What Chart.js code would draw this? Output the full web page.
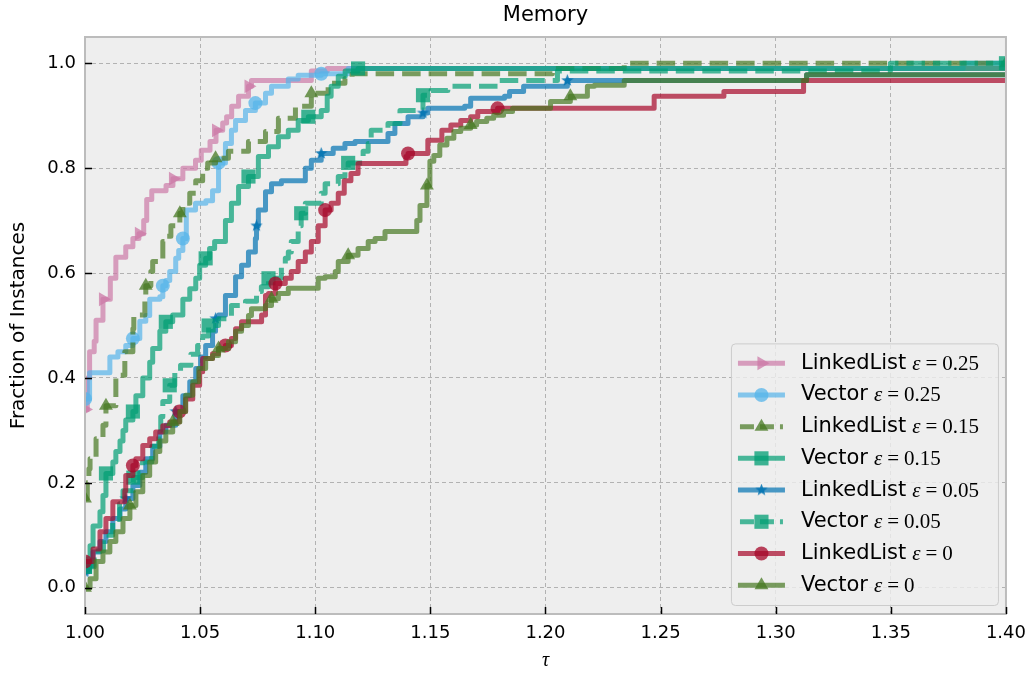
<!DOCTYPE html>
<html lang="en">
<head>
  <meta charset="UTF-8" />
  <title>Memory</title>
  <script src="https://cdn.jsdelivr.net/npm/chart.js"></script>
  <style>
body {
  margin: 0;
  background: #ffffff;
}

.bloque {
  width: 1035px;
  height: 673px;
}
  </style>
</head>
<body>
<div class="bloque">
  <canvas id="grafico" width="1035" height="673"></canvas>
</div>

<script>
// Ticks
const xTicks = [1.00, 1.05, 1.10, 1.15, 1.20, 1.25, 1.30, 1.35, 1.40];
const yTicks = [0.0, 0.2, 0.4, 0.6, 0.8, 1.0];

// LinkedList eps = 0.25
const ll025Tau = [1.000, 1.001, 1.002, 1.004, 1.0048, 1.0078, 1.011, 1.0134, 1.0177, 1.0208, 1.0234, 1.0255, 1.0268, 1.029, 1.0352, 1.0382, 1.0425, 1.048, 1.0505, 1.0543, 1.0569, 1.0598, 1.0615, 1.0637, 1.0667, 1.071, 1.0723, 1.0983, 1.1052, 1.40];
const ll025Frac = [0.34, 0.40, 0.45, 0.47, 0.51, 0.55, 0.59, 0.63, 0.65, 0.666, 0.675, 0.70, 0.74, 0.757, 0.767, 0.78, 0.80, 0.815, 0.834, 0.851, 0.872, 0.886, 0.898, 0.918, 0.937, 0.956, 0.967, 0.985, 0.99, 0.99];

// Vector eps = 0.25
const v025Tau = [1.000, 1.002, 1.0108, 1.0143, 1.0177, 1.0208, 1.0238, 1.0264, 1.0281, 1.0325, 1.0338, 1.0351, 1.0368, 1.0394, 1.0407, 1.0425, 1.044, 1.048, 1.0525, 1.0554, 1.058, 1.061, 1.0636, 1.0654, 1.0697, 1.074, 1.0784, 1.081, 1.0883, 1.0926, 1.1026, 1.1143, 1.3814, 1.40];
const v025Frac = [0.36, 0.41, 0.44, 0.45, 0.462, 0.475, 0.508, 0.519, 0.55, 0.555, 0.576, 0.586, 0.603, 0.628, 0.643, 0.666, 0.72, 0.733, 0.738, 0.757, 0.81, 0.847, 0.872, 0.891, 0.91, 0.924, 0.943, 0.956, 0.97, 0.977, 0.98, 0.99, 1.0, 1.0];

// LinkedList eps = 0.15
const ll015Tau = [1.000, 1.001, 1.0017, 1.0022, 1.0048, 1.0078, 1.0091, 1.0134, 1.0173, 1.0208, 1.0212, 1.026, 1.0264, 1.0286, 1.0294, 1.0338, 1.0351, 1.0373, 1.0412, 1.0425, 1.0455, 1.0481, 1.0511, 1.0533, 1.0567, 1.0623, 1.071, 1.0784, 1.084, 1.0914, 1.0983, 1.1056, 1.1129, 1.116, 1.203, 1.2342, 1.40];
const ll015Frac = [0.17, 0.20, 0.227, 0.246, 0.284, 0.31, 0.347, 0.405, 0.45, 0.494, 0.52, 0.557, 0.576, 0.603, 0.622, 0.66, 0.67, 0.69, 0.714, 0.733, 0.752, 0.776, 0.80, 0.81, 0.819, 0.832, 0.851, 0.87, 0.895, 0.918, 0.943, 0.962, 0.971, 0.98, 0.99, 1.0, 1.0];

// Vector eps = 0.15
const v015Tau = [1.000, 1.0004, 1.0022, 1.0035, 1.0065, 1.0078, 1.0091, 1.0121, 1.0134, 1.0152, 1.0165, 1.0177, 1.0208, 1.0221, 1.0251, 1.0281, 1.0294, 1.0325, 1.0351, 1.0381, 1.0425, 1.0455, 1.0481, 1.0498, 1.0524, 1.0541, 1.0563, 1.061, 1.0636, 1.0667, 1.071, 1.0753, 1.0797, 1.084, 1.0883, 1.0926, 1.097, 1.1026, 1.1052, 1.1069, 1.11, 1.113, 1.1186, 1.40];
const v015Frac = [0.04, 0.055, 0.08, 0.118, 0.145, 0.176, 0.218, 0.24, 0.26, 0.28, 0.30, 0.32, 0.336, 0.366, 0.40, 0.43, 0.456, 0.489, 0.507, 0.52, 0.55, 0.57, 0.59, 0.615, 0.628, 0.647, 0.66, 0.70, 0.733, 0.765, 0.784, 0.822, 0.841, 0.86, 0.872, 0.891, 0.898, 0.91, 0.937, 0.956, 0.975, 0.985, 0.99, 0.99];

// LinkedList eps = 0.05
const ll005Tau = [1.000, 1.0013, 1.0035, 1.0065, 1.0091, 1.0121, 1.0152, 1.0177, 1.0208, 1.0238, 1.0264, 1.0294, 1.0325, 1.0351, 1.0394, 1.0425, 1.0455, 1.0481, 1.0502, 1.0524, 1.0554, 1.0567, 1.058, 1.061, 1.0654, 1.068, 1.071, 1.074, 1.0745, 1.0753, 1.0784, 1.081, 1.0853, 1.0957, 1.0983, 1.1026, 1.1078, 1.1129, 1.1173, 1.1316, 1.1346, 1.1403, 1.1468, 1.1489, 1.1649, 1.1675, 1.1822, 1.1844, 1.1905, 1.2095, 1.3134, 1.40];
const ll005Frac = [0.03, 0.042, 0.068, 0.088, 0.107, 0.132, 0.15, 0.17, 0.195, 0.22, 0.246, 0.27, 0.297, 0.31, 0.336, 0.366, 0.393, 0.418, 0.44, 0.462, 0.489, 0.513, 0.52, 0.557, 0.593, 0.615, 0.64, 0.666, 0.69, 0.72, 0.755, 0.77, 0.776, 0.80, 0.815, 0.828, 0.838, 0.847, 0.851, 0.866, 0.885, 0.898, 0.905, 0.914, 0.918, 0.933, 0.937, 0.946, 0.956, 0.967, 0.978, 0.978];

// Vector eps = 0.05
const v005Tau = [1.000, 1.004, 1.008, 1.012, 1.015, 1.0165, 1.021, 1.025, 1.029, 1.032, 1.0329, 1.0338, 1.0368, 1.039, 1.0415, 1.046, 1.0489, 1.0511, 1.0537, 1.058, 1.0636, 1.0697, 1.0745, 1.0766, 1.0797, 1.0853, 1.087, 1.0883, 1.0896, 1.0926, 1.0939, 1.0957, 1.1026, 1.1043, 1.11, 1.1129, 1.1143, 1.1208, 1.123, 1.1243, 1.1316, 1.1368, 1.1468, 1.1503, 1.1576, 1.1792, 1.2052, 1.3498, 1.40];
const v005Frac = [0.04, 0.07, 0.10, 0.13, 0.16, 0.185, 0.21, 0.24, 0.27, 0.30, 0.326, 0.355, 0.386, 0.41, 0.424, 0.445, 0.462, 0.48, 0.50, 0.513, 0.538, 0.546, 0.565, 0.574, 0.59, 0.612, 0.628, 0.64, 0.66, 0.69, 0.714, 0.733, 0.752, 0.77, 0.784, 0.80, 0.81, 0.832, 0.847, 0.872, 0.885, 0.91, 0.939, 0.948, 0.956, 0.967, 0.985, 1.0, 1.0];

// LinkedList eps = 0
const ll0Tau = [1.000, 1.0035, 1.0065, 1.0091, 1.0121, 1.0173, 1.0177, 1.0208, 1.0221, 1.0251, 1.0281, 1.0307, 1.0338, 1.0368, 1.041, 1.0437, 1.0468, 1.0498, 1.0511, 1.0554, 1.058, 1.061, 1.0636, 1.0654, 1.068, 1.0767, 1.0784, 1.0797, 1.0827, 1.087, 1.0896, 1.0926, 1.0957, 1.0983, 1.1013, 1.1043, 1.1069, 1.11, 1.1126, 1.1155, 1.1186, 1.1394, 1.1403, 1.1489, 1.155, 1.1589, 1.1632, 1.1675, 1.1706, 1.1792, 1.2472, 1.2775, 1.3121, 1.40];
const ll0Frac = [0.05, 0.074, 0.107, 0.132, 0.164, 0.185, 0.214, 0.233, 0.246, 0.271, 0.284, 0.297, 0.309, 0.316, 0.336, 0.36, 0.386, 0.412, 0.437, 0.446, 0.456, 0.462, 0.475, 0.494, 0.507, 0.52, 0.557, 0.561, 0.58, 0.59, 0.603, 0.622, 0.64, 0.66, 0.69, 0.72, 0.733, 0.752, 0.776, 0.79, 0.809, 0.822, 0.828, 0.853, 0.872, 0.882, 0.891, 0.898, 0.908, 0.914, 0.937, 0.946, 0.967, 0.967];

// Vector eps = 0
const v0Tau = [1.000, 1.0022, 1.0048, 1.0078, 1.0108, 1.0134, 1.0165, 1.0195, 1.0221, 1.0251, 1.0281, 1.0307, 1.0325, 1.0351, 1.0381, 1.0412, 1.0437, 1.0468, 1.0494, 1.0524, 1.0554, 1.058, 1.0623, 1.0654, 1.068, 1.071, 1.0723, 1.0784, 1.081, 1.084, 1.0883, 1.1013, 1.1043, 1.1087, 1.11, 1.1143, 1.1186, 1.123, 1.126, 1.1303, 1.1441, 1.1455, 1.1485, 1.1498, 1.1515, 1.1541, 1.1572, 1.1602, 1.1632, 1.1675, 1.1701, 1.1745, 1.1775, 1.1818, 1.1857, 1.2022, 1.2108, 1.2182, 1.2212, 1.2342, 1.3134, 1.40];
const v0Frac = [0.0, 0.017, 0.05, 0.068, 0.088, 0.107, 0.132, 0.157, 0.183, 0.214, 0.24, 0.26, 0.28, 0.297, 0.316, 0.336, 0.367, 0.393, 0.418, 0.437, 0.443, 0.456, 0.469, 0.489, 0.50, 0.519, 0.532, 0.538, 0.551, 0.561, 0.571, 0.59, 0.593, 0.603, 0.622, 0.634, 0.647, 0.66, 0.666, 0.679, 0.70, 0.729, 0.767, 0.813, 0.824, 0.844, 0.857, 0.87, 0.876, 0.882, 0.889, 0.895, 0.901, 0.908, 0.914, 0.927, 0.937, 0.956, 0.958, 0.967, 0.978, 0.978];

// Estrella rellena (marcador '*')
function estrella(color, size) {
  const c = document.createElement('canvas');
  c.width = size;
  c.height = size;
  const g = c.getContext('2d');
  g.fillStyle = color;
  g.beginPath();
  for (let k = 0; k < 10; k++) {
    const r = k % 2 ? size * 0.21 : size * 0.5;
    const a = -Math.PI / 2 + k * Math.PI / 5;
    g.lineTo(size / 2 + r * Math.cos(a), size / 2 + r * Math.sin(a));
  }
  g.closePath();
  g.fill();
  return c;
}

const rgba = (c, a) => `rgba(${c}, ${a})`;

const series = [
  { name: 'LinkedList', eps: '0.25', tau: ll025Tau, frac: ll025Frac, color: '204, 121, 167', dash: [], marker: 'triangle', rot: 90, r: 8, every: 5 },
  { name: 'Vector', eps: '0.25', tau: v025Tau, frac: v025Frac, color: '86, 180, 233', dash: [], marker: 'circle', rot: 0, r: 7, every: 5 },
  { name: 'LinkedList', eps: '0.15', tau: ll015Tau, frac: ll015Frac, color: '70, 120, 33', dash: [18.5, 8], marker: 'triangle', rot: 0, r: 8, every: 6 },
  { name: 'Vector', eps: '0.15', tau: v015Tau, frac: v015Frac, color: '0, 158, 115', dash: [], marker: 'rect', rot: 0, r: 10, every: 6 },
  { name: 'LinkedList', eps: '0.05', tau: ll005Tau, frac: ll005Frac, color: '0, 114, 178', dash: [], marker: 'star', rot: 0, r: 6, every: 7 },
  { name: 'Vector', eps: '0.05', tau: v005Tau, frac: v005Frac, color: '0, 158, 115', dash: [18.5, 8], marker: 'rect', rot: 0, r: 10, every: 6 },
  { name: 'LinkedList', eps: '0', tau: ll0Tau, frac: ll0Frac, color: '166, 6, 40', dash: [], marker: 'circle', rot: 0, r: 7, every: 7 },
  { name: 'Vector', eps: '0', tau: v0Tau, frac: v0Frac, color: '70, 120, 33', dash: [], marker: 'triangle', rot: 0, r: 8, every: 7 }
];

series.forEach(s => {
  s.style = s.marker === 'star' ? estrella(rgba(s.color, 0.85), 13) : s.marker;
});

// Marcador para la leyenda
function marcador(g, s, x, y) {
  g.save();
  g.fillStyle = rgba(s.color, 0.75);
  g.beginPath();
  if (s.marker === 'circle') {
    g.arc(x, y, s.r, 0, Math.PI * 2);
  } else if (s.marker === 'rect') {
    const h = s.r * Math.SQRT1_2;
    g.rect(x - h, y - h, 2 * h, 2 * h);
  } else if (s.marker === 'triangle') {
    let a = s.rot * Math.PI / 180;
    for (let k = 0; k < 3; k++) {
      g.lineTo(x + Math.sin(a) * s.r, y - Math.cos(a) * s.r);
      a += 2 * Math.PI / 3;
    }
    g.closePath();
  }
  g.fill();
  if (s.marker === 'star') g.drawImage(s.style, x - s.style.width / 2, y - s.style.height / 2);
  g.restore();
}

// Fondo del área, título, marco, ticks hacia dentro y leyenda
const estiloEjes = {
  id: 'estiloEjes',
  beforeDraw(chart) {
    const { ctx, chartArea: a } = chart;
    ctx.save();
    ctx.fillStyle = '#eeeeee';
    ctx.fillRect(a.left, a.top, a.right - a.left, a.bottom - a.top);
    ctx.restore();
  },
  afterDraw(chart) {
    const { ctx, chartArea: a, scales: { x, y } } = chart;
    ctx.save();

    ctx.fillStyle = '#000000';
    ctx.font = '21px "DejaVu Sans"';
    ctx.textAlign = 'center';
    ctx.textBaseline = 'middle';
    ctx.fillText('Memory', (a.left + a.right) / 2, 16);

    ctx.strokeStyle = '#bcbcbc';
    ctx.lineWidth = 2;
    ctx.strokeRect(a.left, a.top, a.right - a.left, a.bottom - a.top);

    ctx.strokeStyle = '#000000';
    ctx.lineWidth = 1.5;
    ctx.beginPath();
    yTicks.forEach(v => {
      const py = Math.round(y.getPixelForValue(v)) + 0.5;
      ctx.moveTo(a.left, py);
      ctx.lineTo(a.left + 7, py);
    });
    xTicks.forEach(v => {
      const px = Math.round(x.getPixelForValue(v)) + 0.5;
      ctx.moveTo(px, a.bottom);
      ctx.lineTo(px, a.bottom - 7);
    });
    ctx.stroke();

    // Leyenda
    const rowH = 31.7;
    const w = 267;
    const h = rowH * series.length + 8;
    const bx = a.right - 8 - w;
    const by = a.bottom - 9 - h;
    ctx.fillStyle = 'rgba(238, 238, 238, 0.8)';
    ctx.strokeStyle = '#cccccc';
    ctx.lineWidth = 1;
    ctx.beginPath();
    ctx.roundRect(bx + 0.5, by + 0.5, w, h, 4);
    ctx.fill();
    ctx.stroke();

    series.forEach((s, i) => {
      const cy = by + 4 + rowH * (i + 0.5);
      const x0 = bx + 7;
      const x1 = bx + 54;
      ctx.strokeStyle = rgba(s.color, 0.7);
      ctx.lineWidth = 5;
      ctx.setLineDash(s.dash.length ? [14, 6] : []);
      ctx.beginPath();
      ctx.moveTo(s.dash.length ? x0 + 2 : x0, cy);
      ctx.lineTo(s.dash.length ? x1 - 2 : x1, cy);
      ctx.stroke();
      ctx.setLineDash([]);
      marcador(ctx, s, (x0 + x1) / 2, cy);

      ctx.fillStyle = '#000000';
      ctx.textBaseline = 'middle';
      ctx.textAlign = 'left';
      let tx = bx + 70;
      ctx.font = '21px "DejaVu Sans"';
      ctx.fillText(s.name, tx, cy);
      tx += ctx.measureText(s.name).width + 6;
      ctx.font = 'italic 21px "Liberation Serif"';
      ctx.fillText('\u03b5', tx, cy + 1);
      tx += ctx.measureText('\u03b5').width + 5;
      ctx.font = '21px "Liberation Serif"';
      ctx.fillText('=', tx, cy + 1);
      tx += ctx.measureText('=').width + 5;
      ctx.fillText(s.eps, tx, cy + 1);
    });
    ctx.restore();
  }
};

const n = series.length;
const datasets = series.map((s, i) => ({
  label: s.name + ' \u03b5=' + s.eps,
  data: s.tau.map((t, k) => ({ x: t, y: s.frac[k] })),
  borderColor: rgba(s.color, 0.7),
  backgroundColor: rgba(s.color, 0.75),
  borderWidth: 5,
  borderDash: s.dash,
  borderJoinStyle: 'round',
  stepped: true,
  fill: false,
  pointStyle: s.style,
  pointRotation: s.rot,
  pointRadius: c => (c.dataIndex % s.every === 0 ? s.r : 0),
  pointHoverRadius: 0,
  pointBorderWidth: 0,
  pointBackgroundColor: rgba(s.color, 0.75),
  order: n - 1 - i
}));

const fuente = { family: '"DejaVu Sans"', size: 18 };

new Chart(document.getElementById('grafico'), {
  type: 'line',
  data: { datasets },
  options: {
    responsive: false,
    animation: false,
    layout: { padding: { left: 0, right: 27, top: 37, bottom: 0 } },
    plugins: {
      legend: { display: false },
      tooltip: { enabled: false },
      title: { display: false }
    },
    scales: {
      x: {
        type: 'linear',
        min: 1.0,
        max: 1.4,
        afterBuildTicks: s => { s.ticks = xTicks.map(v => ({ value: v })); },
        afterFit: s => { s.height = 59; },
        ticks: {
          color: '#000000',
          font: fuente,
          padding: 9,
          maxRotation: 0,
          callback: v => v.toFixed(2)
        },
        grid: { color: '#b2b2b2', lineWidth: 1, drawTicks: false },
        border: { display: false, dash: [4, 3] },
        title: {
          display: true,
          text: '\u03c4',
          color: '#000000',
          font: { family: '"Liberation Serif"', style: 'italic', size: 20 },
          padding: { top: 0, bottom: 0 }
        }
      },
      y: {
        type: 'linear',
        min: -0.05,
        max: 1.05,
        afterBuildTicks: s => { s.ticks = yTicks.map(v => ({ value: v })); },
        afterFit: s => { s.width = 85; },
        ticks: {
          color: '#000000',
          font: fuente,
          padding: 9,
          callback: v => v.toFixed(1)
        },
        grid: { color: '#b2b2b2', lineWidth: 1, drawTicks: false },
        border: { display: false, dash: [4, 3] },
        title: {
          display: true,
          text: 'Fraction of Instances',
          color: '#000000',
          font: { family: '"DejaVu Sans"', size: 20 },
          padding: { top: 7, bottom: 0 }
        }
      }
    }
  },
  plugins: [estiloEjes]
});
</script>

</body>
</html>
